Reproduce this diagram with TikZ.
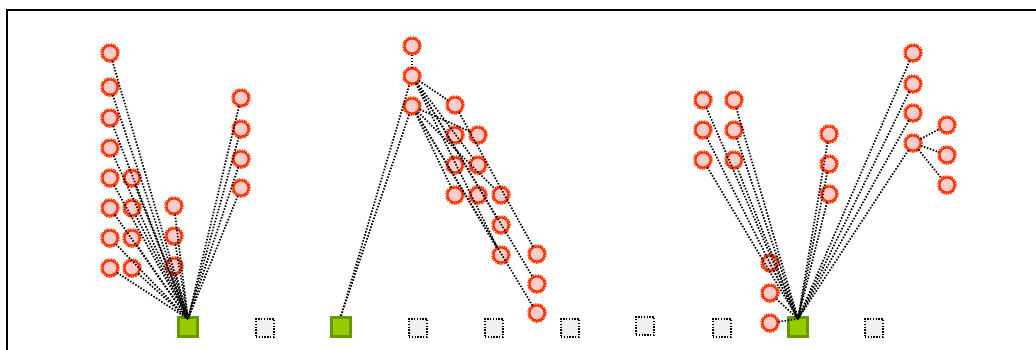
\documentclass[tikz,border=0pt]{standalone}
\definecolor{pinkc}{HTML}{FFCCCC}
\definecolor{redc}{HTML}{FF3300}
\definecolor{greenf}{HTML}{99CC00}
\definecolor{greend}{HTML}{669900}
\tikzset{
  cnode/.style={circle, minimum size=15pt, inner sep=0pt, fill=pinkc, draw=redc, line width=2pt,
    preaction={draw=redc, line width=4.6pt, dash pattern=on 1.2pt off 0.8pt}},
  gsq/.style={rectangle, minimum size=19pt, inner sep=0pt, fill=greenf, draw=greend, line width=3.2pt},
  esq/.style={rectangle, minimum size=18pt, inner sep=0pt, fill=gray!12, draw=black, line width=1.5pt, dash pattern=on 1.4pt off 1.4pt},
  link/.style={draw=black, line width=1.7pt, dash pattern=on 1.5pt off 1.6pt},
  frame/.style={draw=black, line width=1.8pt}
}
\begin{document}
\begin{tikzpicture}[x=1pt,y=-1pt]
\useasboundingbox (0,0) rectangle (1036,349);
\draw[frame] (7,400) -- (7,10) -- (1100,10);
% squares
\node[gsq] (G1) at (188,327) {};
\node[esq] (S1) at (265,328) {};
\node[gsq] (G2) at (341,327) {};
\node[esq] (S2) at (418,328) {};
\node[esq] (S3) at (494,328) {};
\node[esq] (S4) at (570,328) {};
\node[esq] (S5) at (645,326) {};
\node[esq] (S6) at (722,328) {};
\node[gsq] (G3) at (798,327) {};
\node[esq] (S7) at (874,328) {};
\coordinate (T1) at ([yshift=-3pt]G1.north);
\coordinate (T3) at ([yshift=-3pt]G3.north);
% left group
\foreach \y [count=\i] in {53,87,118,148,178,208,238,268} \node[cnode] (La\i) at (110,\y) {};
\foreach \y [count=\i] in {178,208,238,268} \node[cnode] (Lb\i) at (132,\y) {};
\foreach \y [count=\i] in {206,236,266} \node[cnode] (Lc\i) at (174,\y) {};
\foreach \y [count=\i] in {98,129,159,188} \node[cnode] (Ld\i) at (241,\y) {};
% middle group
\node[cnode] (M0) at (412,46) {};
\node[cnode] (MA) at (412,76) {};
\node[cnode] (MB) at (412,106) {};
\foreach \y [count=\i] in {105,135,165,195} \node[cnode] (Ma\i) at (455,\y) {};
\foreach \y [count=\i] in {135,165,195} \node[cnode] (Mb\i) at (478,\y) {};
\foreach \y [count=\i] in {195,225,255} \node[cnode] (Mc\i) at (501,\y) {};
\foreach \y [count=\i] in {254,284,313} \node[cnode] (Md\i) at (537,\y) {};
% right group
\foreach \y [count=\i] in {100,130,160} \node[cnode] (Ra\i) at (703,\y) {};
\foreach \y [count=\i] in {100,130,160} \node[cnode] (Rb\i) at (734,\y) {};
\foreach \y [count=\i] in {263,293,323} \node[cnode] (Rc\i) at (770,\y) {};
\foreach \y [count=\i] in {134,164,194} \node[cnode] (Rd\i) at (829,\y) {};
\foreach \y [count=\i] in {53,84,113,143} \node[cnode] (Re\i) at (913,\y) {};
\foreach \y [count=\i] in {125,155,185} \node[cnode] (Rf\i) at (947,\y) {};
% left links
\foreach \n in {La1,La2,La3,La4,La5,La6,La7,La8,Lb1,Lb2,Lb3,Lb4,Lc1,Lc2,Lc3,Ld1,Ld2,Ld3,Ld4}
  \draw[link] (\n) -- (T1);
% middle links
\draw[link] (M0) -- (MA);
\draw[link] (G2.north) -- (MA);
\draw[link] (G2.north) -- (MB);
\foreach \n in {Ma1,Mb2,Mc2,Md2,Mc3}
  \draw[link] (MA) -- (\n);
\foreach \n in {Mb1,Ma4,Mc1,Md3,Mc3}
  \draw[link] (MB) -- (\n);
\draw[link] (Ma1) -- (Md1);
% right links
\foreach \n in {Ra1,Ra2,Ra3,Rb1,Rb2,Rb3,Rc1,Rc2,Rc3,Rd1,Rd2,Rd3,Re1,Re2,Re3,Re4}
  \draw[link] (\n) -- (T3);
\foreach \n in {Rf1,Rf2,Rf3}
  \draw[link] (Re4) -- (\n);
\end{tikzpicture}
\end{document}
